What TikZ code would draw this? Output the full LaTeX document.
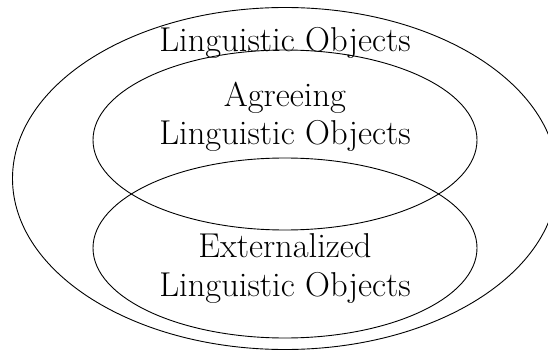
\documentclass[tikz,border=0pt]{standalone}
\usetikzlibrary{shapes.geometric}
\begin{document}
\begin{tikzpicture}[x=1pt,y=-1pt,
  oval/.style={draw, ellipse, inner sep=0pt, line width=0.9pt},
  lbl/.style={inner sep=0pt, align=center, font=\fontsize{34.5}{38.3}\selectfont}]
\useasboundingbox (0,0) rectangle (548,350);
\node[oval, minimum width=545pt, minimum height=342pt] (outer) at (285,178.5) {};
\node[oval, minimum width=384pt, minimum height=180pt] (agree) at (285,140) {};
\node[oval, minimum width=384pt, minimum height=180pt] (ext) at (285,248) {};
\node[lbl, anchor=base] (tlo) at (285,52) {Linguistic Objects};
\node[lbl] (tagree) at (285,117) {Agreeing\\Linguistic Objects};
\node[lbl] (text) at (285,268.6) {Externalized\\Linguistic Objects};
\end{tikzpicture}
\end{document}
